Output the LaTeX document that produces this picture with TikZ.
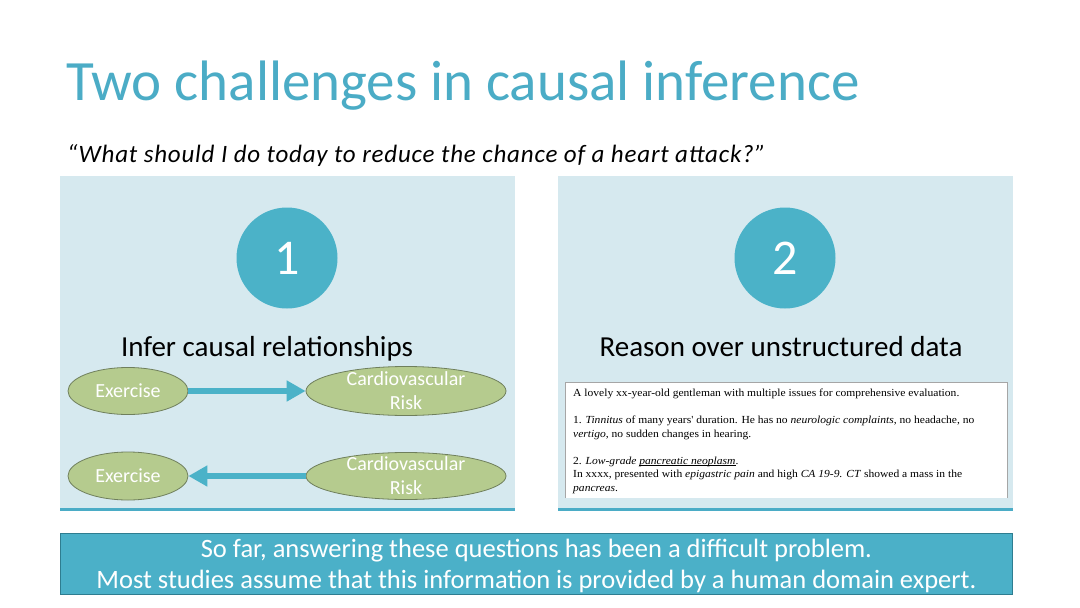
\documentclass[tikz,border=0pt]{standalone}
\usepackage{fontspec}
\setmainfont{Carlito}
\newfontfamily\notefont[FakeStretch=1.07]{Liberation Serif}
\usetikzlibrary{arrows.meta,shapes.geometric}
\newcommand{\myul}[1]{\setbox0\hbox{#1}\rlap{\rule[-1.6pt]{\wd0}{0.45pt}}\box0}
\definecolor{teal1}{HTML}{4BACC6}
\definecolor{circfill}{HTML}{4BB2C8}
\definecolor{panelfill}{HTML}{D6E9EF}
\definecolor{ellfill}{HTML}{B5CB8E}
\definecolor{elldraw}{HTML}{6F7F5C}
\definecolor{boxfill}{HTML}{4BB0C8}
\definecolor{boxdraw}{HTML}{2E7D90}
\tikzset{
  panel/.style={fill=panelfill, draw=none},
  numcirc/.style={circle, fill=circfill, minimum size=101pt, inner sep=0pt, text=white, font=\fontsize{50}{60}\selectfont},
  heading/.style={font=\fontsize{29}{34}\selectfont, text=black},
  ellnode/.style={ellipse, fill=ellfill, draw=elldraw, line width=0.8pt, inner sep=0pt},
  elltext/.style={text=white, font=\fontsize{20}{24}\selectfont, align=center},
  bigarrow/.style={draw=circfill, line width=6.5pt, -{Triangle[length=19pt,width=20pt]}},
}
\begin{document}
\begin{tikzpicture}[x=1pt,y=-1pt]
\useasboundingbox (0,0) rectangle (1080,608);
\fill[white] (0,0) rectangle (1080,608);
% title
\node[anchor=base west, inner sep=0pt, text=teal1, font=\fontsize{57}{66}\selectfont] (title) at (66,100) {Two challenges in causal inference};
\node[anchor=base west, inner sep=0pt, font=\fontsize{25}{30}\selectfont\itshape\addfontfeature{LetterSpace=3.2}] (quote) at (67,162) {``What should I do today to reduce the chance of a heart attack?''};
% panels
\fill[panel] (60,176) rectangle (515,510);
\fill[panel] (558,176) rectangle (1013,510);
\draw[teal1, line width=3pt] (60,509.5) -- (515,509.5);
\draw[teal1, line width=3pt] (558,509.5) -- (1013,509.5);
% circles
\node[numcirc] (c1) at (287,258) {1};
\node[numcirc] (c2) at (785,258) {2};
\node[heading, anchor=base] (h1) at (267,356) {Infer causal relationships};
\node[heading, anchor=base] (h2) at (781,356) {Reason over unstructured data};
% ellipses row 1
\node[ellnode, minimum width=120pt, minimum height=47pt] (ex1) at (128,391) {};
\node[elltext] (ex1t) at (ex1.center) {Exercise};
\node[ellnode, minimum width=200pt, minimum height=49pt] (cv1) at (406,391) {};
\node[elltext] (cv1t) at (cv1.center) {Cardiovascular\\Risk};
\draw[bigarrow] (ex1) -- (cv1);
% row 2
\node[ellnode, minimum width=120pt, minimum height=48pt] (ex2) at (128,476) {};
\node[elltext] (ex2t) at (ex2.center) {Exercise};
\node[ellnode, minimum width=200pt, minimum height=47pt] (cv2) at (406,476) {};
\node[elltext] (cv2t) at (cv2.center) {Cardiovascular\\Risk};
\draw[bigarrow] (cv2) -- (ex2);
% note box
\fill[white] (565,382) rectangle (1007,498);
\draw[gray!70, line width=0.8pt] (565,498) -- (565,382) -- (1007,382) -- (1007,498);
\node[anchor=north west, inner sep=0pt, align=left, font=\notefont\fontsize{10.8}{13.5}\selectfont] (note) at (573,389) {%
A lovely xx-year-old gentleman with multiple issues for comprehensive evaluation.\\[13.5pt]
1. \textit{Tinnitus} of many years' duration. He has no \textit{neurologic complaints}, no headache, no\\
\textit{vertigo}, no sudden changes in hearing.\\[13.5pt]
2. \textit{Low-grade} \myul{\textit{pancreatic neoplasm}}.\\
In xxxx, presented with \textit{epigastric pain} and high \textit{CA 19-9. CT} showed a mass in the\\
\textit{pancreas}.};
% bottom box
\node[draw=boxdraw, fill=boxfill, line width=0.8pt, minimum width=952pt, minimum height=61pt, inner sep=0pt, anchor=north west] (bottom) at (60,533) {};
\node[text=white, align=center, font=\fontsize{26.5}{31}\selectfont] (bt) at ([yshift=-2pt]bottom.center) {So far, answering these questions has been a difficult problem.\\Most studies assume that this information is provided by a human domain expert.};
\end{tikzpicture}
\end{document}
